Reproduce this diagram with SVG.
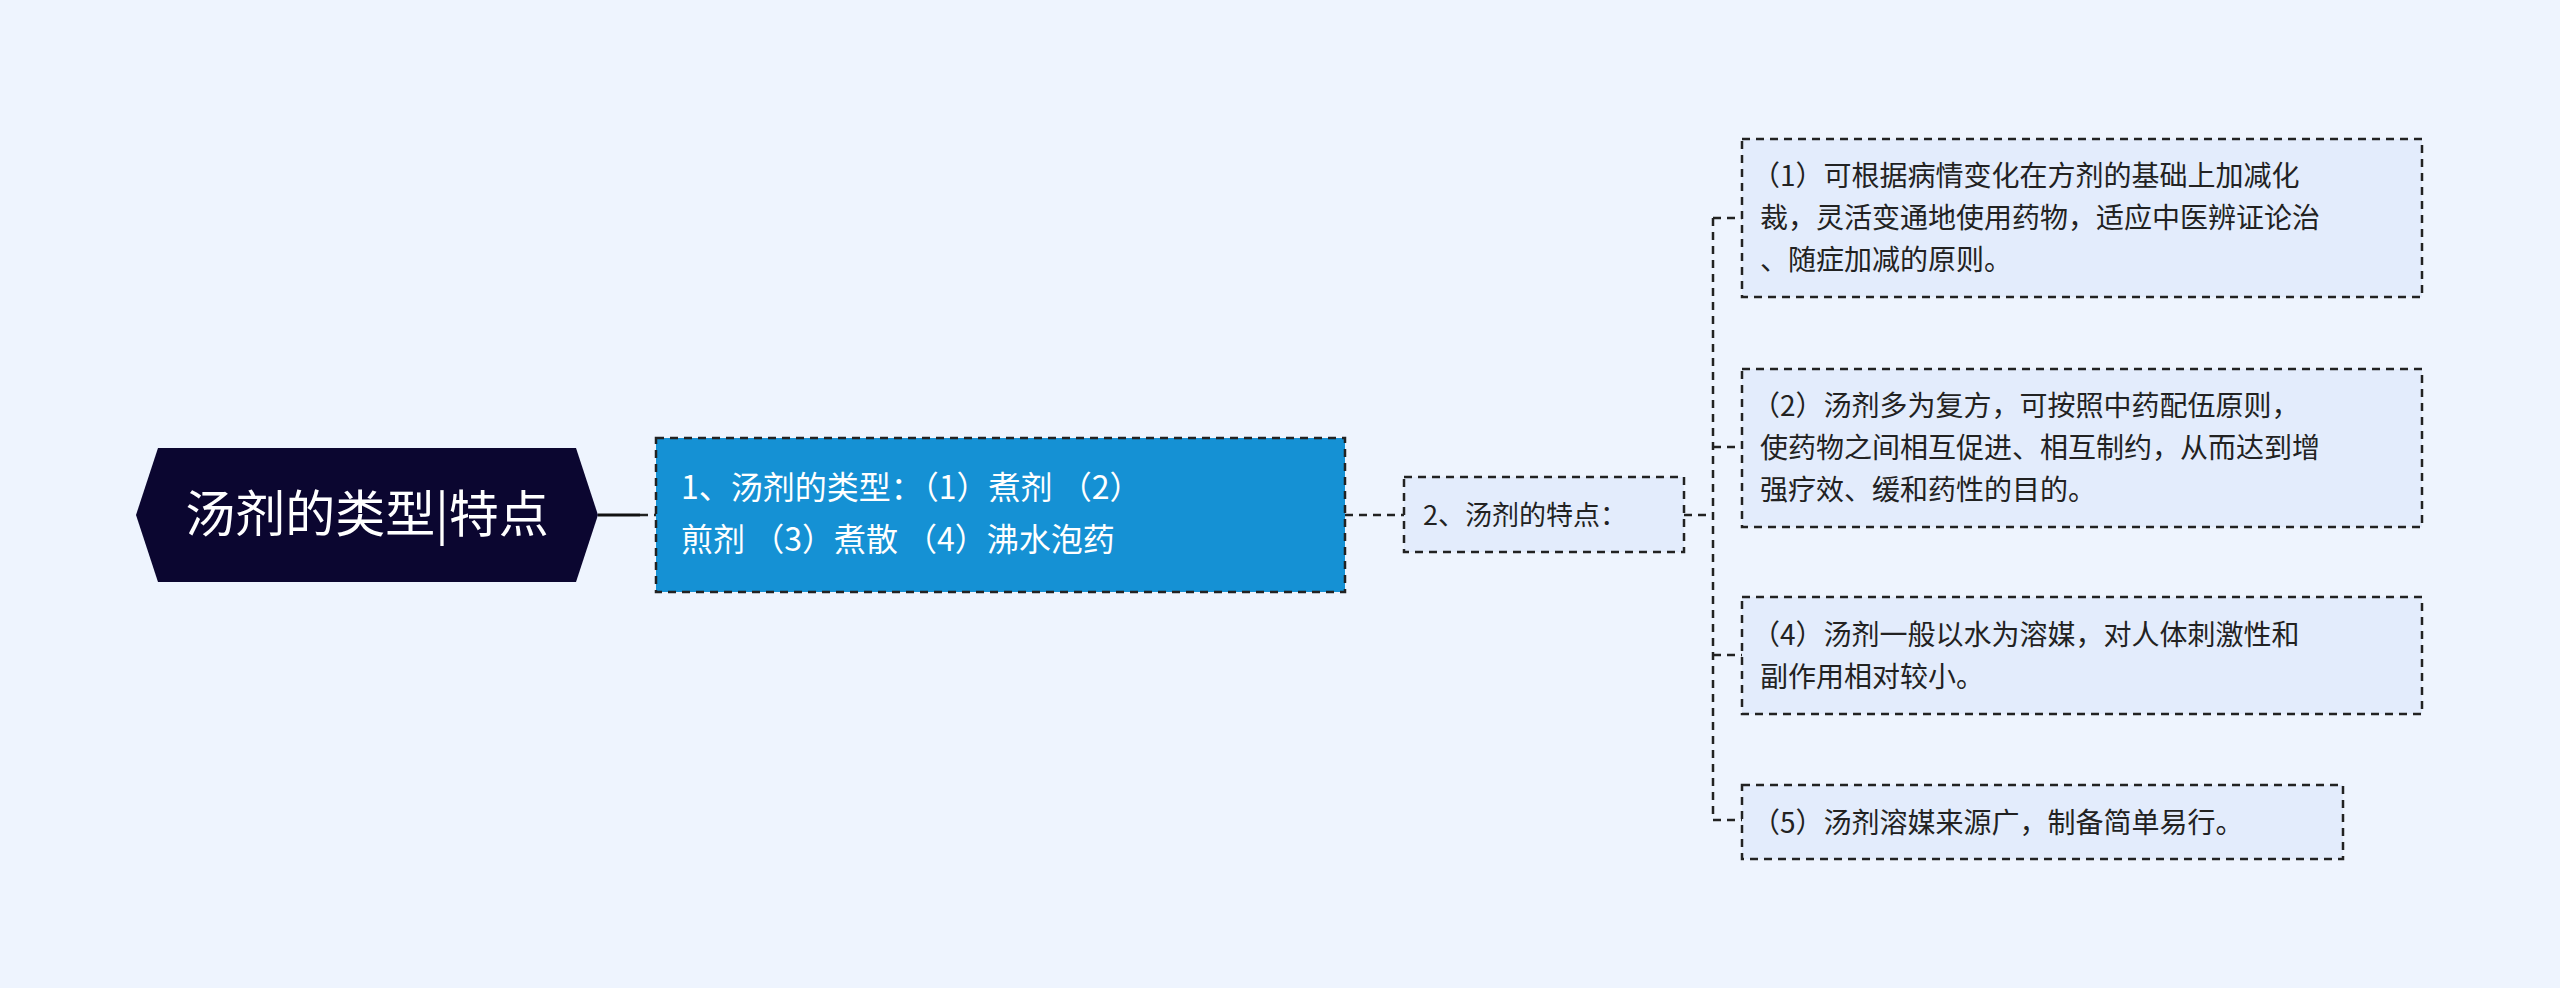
<svg xmlns="http://www.w3.org/2000/svg" width="2560" height="988" viewBox="0 0 2560 988">
<style>
text{font-family:"Noto Sans CJK SC","Noto Sans",sans-serif}
.d{stroke:#222;stroke-width:2.5;stroke-dasharray:8 6;fill:none}
.leaf{fill:#E3ECFC;stroke:#222;stroke-width:2.5;stroke-dasharray:8 6}
.lt{font-size:28px;fill:#222}
</style>
<rect width="2560" height="988" fill="#EEF4FE"/>
<g id="connectors">
<path d="M598 515H640" stroke="#111" stroke-width="3" fill="none"/>
<path class="d" d="M640 515H656"/>
<path class="d" d="M1345 515H1404"/>
<path class="d" d="M1684 515H1713"/>
<path class="d" d="M1713 218V820M1713 218H1742M1713 447H1742M1713 655H1742M1713 820H1742"/>
</g>
<g id="root">
<polygon points="158,448 576,448 598,515 576,582 158,582 136,515" fill="#0B0630"/>
<text x="367" y="532" font-size="50" fill="#fff" text-anchor="middle">汤剂的类型|特点</text>
</g>
<g id="n1">
<rect x="656" y="438" width="689" height="154" fill="#1591D4" stroke="#222" stroke-width="2.5" stroke-dasharray="8 6"/>
<text x="681" y="499" font-size="32" fill="#fff">1、汤剂的类型：（1）煮剂 （2）</text>
<text x="681" y="551" font-size="32" fill="#fff">煎剂 （3）煮散 （4）沸水泡药</text>
</g>
<g id="n2">
<rect class="leaf" x="1404" y="477" width="280" height="75"/>
<text x="1423" y="525" font-size="27" fill="#222">2、汤剂的特点：</text>
</g>
<g id="l1">
<rect class="leaf" x="1742" y="139" width="680" height="158"/>
<text class="lt" x="1752" y="186">（1）可根据病情变化在方剂的基础上加减化</text>
<text class="lt" x="1760" y="228">裁，灵活变通地使用药物，适应中医辨证论治</text>
<text class="lt" x="1760" y="270">、随症加减的原则。</text>
</g>
<g id="l2">
<rect class="leaf" x="1742" y="369" width="680" height="158"/>
<text class="lt" x="1752" y="416">（2）汤剂多为复方，可按照中药配伍原则，</text>
<text class="lt" x="1760" y="458">使药物之间相互促进、相互制约，从而达到增</text>
<text class="lt" x="1760" y="500">强疗效、缓和药性的目的。</text>
</g>
<g id="l4">
<rect class="leaf" x="1742" y="597" width="680" height="117"/>
<text class="lt" x="1752" y="645">（4）汤剂一般以水为溶媒，对人体刺激性和</text>
<text class="lt" x="1760" y="687">副作用相对较小。</text>
</g>
<g id="l5">
<rect class="leaf" x="1742" y="785" width="601" height="74"/>
<text class="lt" x="1752" y="833">（5）汤剂溶媒来源广，制备简单易行。</text>
</g>
</svg>
